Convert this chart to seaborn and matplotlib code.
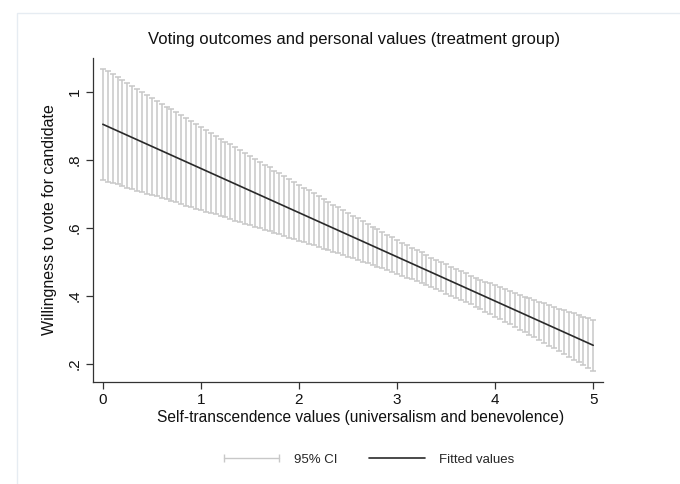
import matplotlib
matplotlib.use("Agg")
import matplotlib.pyplot as plt
from matplotlib.lines import Line2D
from matplotlib.patches import Rectangle
import seaborn as sns
import pandas as pd

# evaluation points of the fit (self-transcendence score)
x_vals = [0.00, 0.05, 0.10, 0.15, 0.20, 0.25, 0.30, 0.35, 0.40, 0.45,
          0.50, 0.55, 0.60, 0.65, 0.70, 0.75, 0.80, 0.85, 0.90, 0.95,
          1.00, 1.05, 1.10, 1.15, 1.20, 1.25, 1.30, 1.35, 1.40, 1.45,
          1.50, 1.55, 1.60, 1.65, 1.70, 1.75, 1.80, 1.85, 1.90, 1.95,
          2.00, 2.05, 2.10, 2.15, 2.20, 2.25, 2.30, 2.35, 2.40, 2.45,
          2.50, 2.55, 2.60, 2.65, 2.70, 2.75, 2.80, 2.85, 2.90, 2.95,
          3.00, 3.05, 3.10, 3.15, 3.20, 3.25, 3.30, 3.35, 3.40, 3.45,
          3.50, 3.55, 3.60, 3.65, 3.70, 3.75, 3.80, 3.85, 3.90, 3.95,
          4.00, 4.05, 4.10, 4.15, 4.20, 4.25, 4.30, 4.35, 4.40, 4.45,
          4.50, 4.55, 4.60, 4.65, 4.70, 4.75, 4.80, 4.85, 4.90, 4.95,
          5.00]

# upper / lower 95% CI bounds
ci_upper = [1.069, 1.061, 1.052, 1.043, 1.035, 1.026, 1.017, 1.009, 1.000, 0.992,
            0.983, 0.974, 0.966, 0.957, 0.949, 0.940, 0.931, 0.923, 0.914, 0.906,
            0.897, 0.889, 0.880, 0.871, 0.863, 0.854, 0.846, 0.837, 0.829, 0.820,
            0.812, 0.803, 0.795, 0.786, 0.778, 0.769, 0.761, 0.752, 0.744, 0.736,
            0.727, 0.719, 0.711, 0.702, 0.694, 0.686, 0.677, 0.669, 0.661, 0.653,
            0.644, 0.636, 0.628, 0.620, 0.612, 0.604, 0.596, 0.588, 0.580, 0.573,
            0.565, 0.557, 0.550, 0.542, 0.535, 0.528, 0.520, 0.513, 0.506, 0.499,
            0.493, 0.486, 0.479, 0.473, 0.467, 0.460, 0.454, 0.448, 0.442, 0.437,
            0.431, 0.425, 0.420, 0.414, 0.409, 0.404, 0.398, 0.393, 0.388, 0.383,
            0.378, 0.373, 0.368, 0.363, 0.358, 0.354, 0.349, 0.344, 0.339, 0.335,
            0.330]
ci_lower = [0.741, 0.736, 0.732, 0.728, 0.723, 0.719, 0.715, 0.710, 0.706, 0.701,
            0.697, 0.693, 0.688, 0.684, 0.679, 0.675, 0.671, 0.666, 0.662, 0.657,
            0.653, 0.648, 0.644, 0.640, 0.635, 0.631, 0.626, 0.622, 0.617, 0.613,
            0.608, 0.604, 0.599, 0.595, 0.590, 0.586, 0.581, 0.577, 0.572, 0.567,
            0.563, 0.558, 0.553, 0.549, 0.544, 0.539, 0.535, 0.530, 0.525, 0.520,
            0.516, 0.511, 0.506, 0.501, 0.496, 0.491, 0.486, 0.481, 0.476, 0.470,
            0.465, 0.460, 0.454, 0.449, 0.443, 0.437, 0.432, 0.426, 0.420, 0.414,
            0.407, 0.401, 0.395, 0.388, 0.381, 0.375, 0.368, 0.361, 0.354, 0.346,
            0.339, 0.332, 0.324, 0.317, 0.309, 0.301, 0.294, 0.286, 0.278, 0.270,
            0.262, 0.254, 0.246, 0.238, 0.230, 0.221, 0.213, 0.205, 0.197, 0.188,
            0.180]

# fitted line end points
fit_x = [0, 5]
fit_y = [0.905, 0.255]

x_ticks = [0, 1, 2, 3, 4, 5]
y_ticks = [0.2, 0.4, 0.6, 0.8, 1.0]
y_tick_labels = [".2", ".4", ".6", ".8", "1"]

sns.set_theme(style="white")
plt.rcParams["font.family"] = ["Liberation Sans", "DejaVu Sans"]

ci_color = "#c8c8c8"
fit_color = "#2a2a2a"

fig = plt.figure(figsize=(6.8, 4.84), dpi=100)
ax = fig.add_axes([0.1368, 0.2107, 0.75, 0.6695])

# faint outer frame like the Stata graph region
fig.patches.append(Rectangle((0.025, -0.05), 1.1, 0.023 + 1.0, transform=fig.transFigure,
                             fill=False, edgecolor="#e6ecf2", lw=1.0, zorder=0))

# CI spikes with caps
ax.vlines(x_vals, ci_lower, ci_upper, color=ci_color, lw=1.1, zorder=1)
ax.plot(x_vals, ci_upper, ls="none", marker="_", ms=4, mew=1.1, color=ci_color, zorder=1)
ax.plot(x_vals, ci_lower, ls="none", marker="_", ms=4, mew=1.1, color=ci_color, zorder=1)

fit_df = pd.DataFrame({"x": fit_x, "y": fit_y})
sns.lineplot(data=fit_df, x="x", y="y", color=fit_color, lw=1.2, ax=ax, zorder=2)

ax.set_xlim(-0.1, 5.1)
ax.set_ylim(0.147, 1.10)
ax.set_xticks(x_ticks)
ax.set_yticks(y_ticks)
ax.set_yticklabels(y_tick_labels, rotation=90, va="center")
ax.tick_params(axis="both", which="both", bottom=True, left=True, length=5, width=0.9,
               color="#333333", labelsize=11, labelcolor="#111111", pad=3)

for side in ["top", "right"]:
    ax.spines[side].set_visible(False)
for side in ["left", "bottom"]:
    ax.spines[side].set_color("#333333")
    ax.spines[side].set_linewidth(0.9)

ax.set_xlabel("Self-transcendence values (universalism and benevolence)", fontsize=11.2,
              color="#111111")
ax.xaxis.set_label_coords(0.525, -0.085)
ax.set_ylabel("Willingness to vote for candidate", fontsize=11.5, color="#111111", labelpad=8)
ax.set_title("Voting outcomes and personal values (treatment group)", fontsize=12.0,
             color="#111111", x=0.512, pad=10)

handles = [Line2D([], [], color=ci_color, lw=1.0, marker="|", ms=6, mew=1.0),
           Line2D([], [], color=fit_color, lw=1.2)]
fig.legend(handles, ["95% CI", "Fitted values"], loc="center", bbox_to_anchor=(0.540, 0.05),
           ncol=2, frameon=False, fontsize=9.5, numpoints=2, handlelength=4.8,
           handletextpad=0.8, columnspacing=2.1)

fig.savefig("out.png", dpi=100, facecolor="white")
